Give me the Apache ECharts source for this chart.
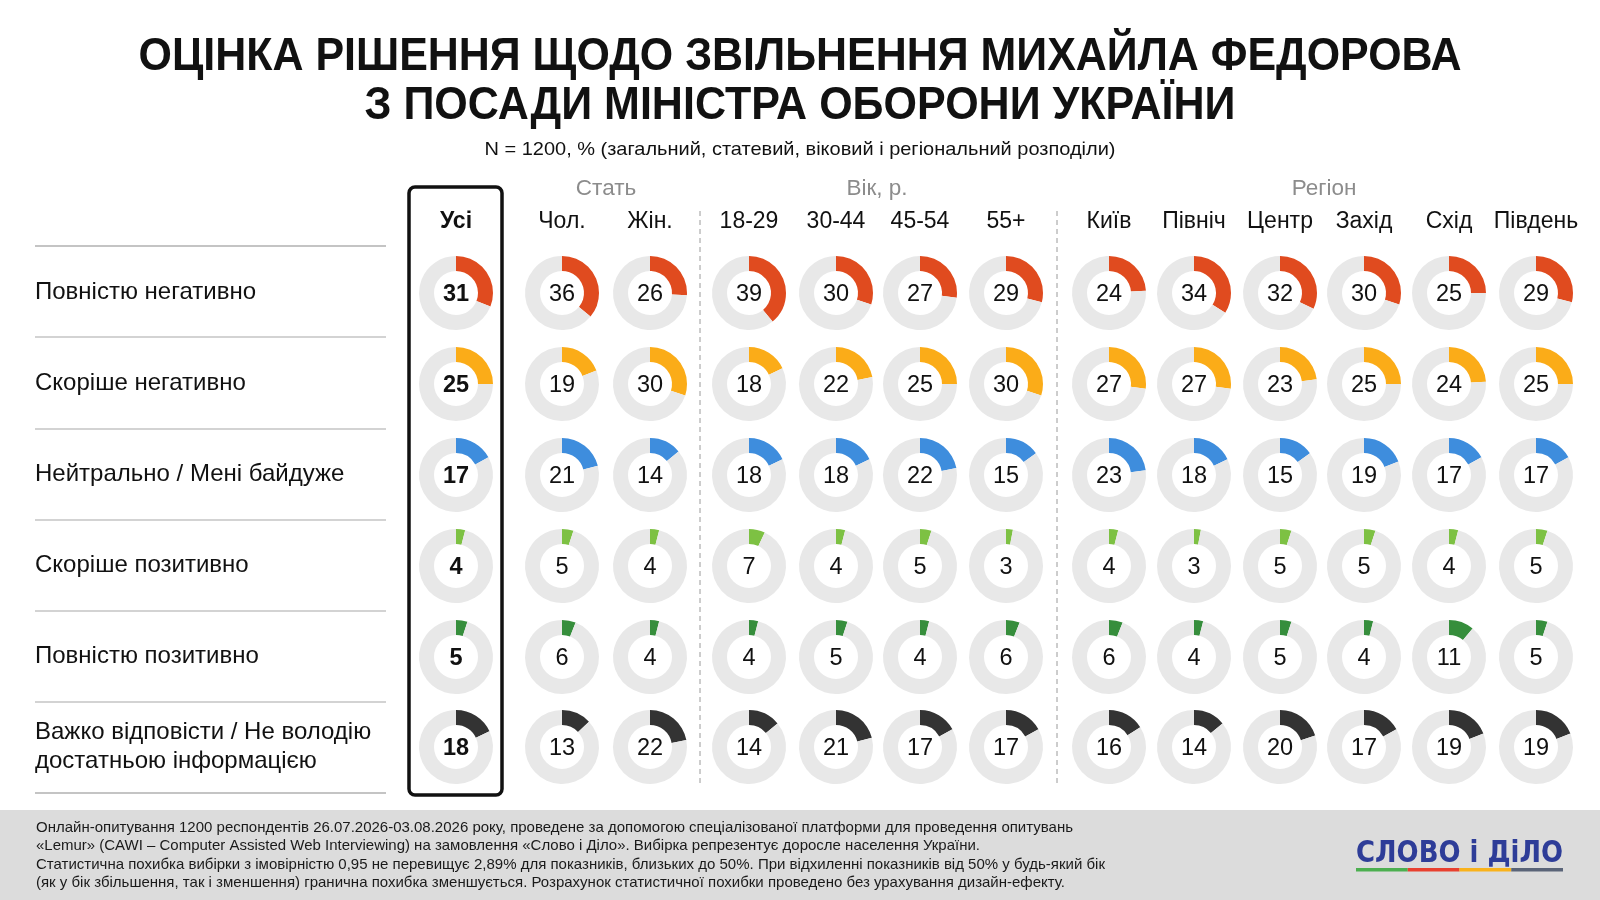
<!DOCTYPE html>
<html>
<head>
<meta charset="utf-8">
<script src="https://cdn.jsdelivr.net/npm/echarts@6/dist/echarts.min.js"></script>
<style>
html,body{margin:0;padding:0;background:#fff;}
#chart{width:1600px;height:900px;}
</style>
</head>
<body>
<div id="chart"></div>
<script>
// ---------- DATA ----------
const columns = ['Усі', 'Чол.', 'Жін.', '18-29', '30-44', '45-54', '55+', 'Київ', 'Північ', 'Центр', 'Захід', 'Схід', 'Південь'];
const groups = ['Стать', 'Вік, р.', 'Регіон'];
const answers = ['Повністю негативно', 'Скоріше негативно', 'Нейтрально / Мені байдуже', 'Скоріше позитивно', 'Повністю позитивно', 'Важко відповісти / Не володію\nдостатньою інформацією'];
const fullyNegative   = [31, 36, 26, 39, 30, 27, 29, 24, 34, 32, 30, 25, 29];
const ratherNegative  = [25, 19, 30, 18, 22, 25, 30, 27, 27, 23, 25, 24, 25];
const neutral         = [17, 21, 14, 18, 18, 22, 15, 23, 18, 15, 19, 17, 17];
const ratherPositive  = [4, 5, 4, 7, 4, 5, 3, 4, 3, 5, 5, 4, 5];
const fullyPositive   = [5, 6, 4, 4, 5, 4, 6, 6, 4, 5, 4, 11, 5];
const hardToSay       = [18, 13, 22, 14, 21, 17, 17, 16, 14, 20, 17, 19, 19];
const rows = [fullyNegative, ratherNegative, neutral, ratherPositive, fullyPositive, hardToSay];

// ---------- STYLE / LAYOUT ----------
const rowColors = ['#E04B1F', '#FBAC18', '#3E8DDD', '#7DC143', '#368E3C', '#333333'];
const trackColor = '#E8E8E8';
const colX = [456, 562, 650, 749, 836, 920, 1006, 1109, 1194, 1280, 1364, 1449, 1536];
const rowY = [293, 384, 475, 566, 657, 747];
const groupX = [606, 877, 1324];
const FONT = '"Liberation Sans", Arial, sans-serif';

const mctx = document.createElement('canvas').getContext('2d');
function fitScale(text, font, w) { mctx.font = font; return w / mctx.measureText(text).width; }

const chart = echarts.init(document.getElementById('chart'), null, {renderer: 'canvas'});

const graphics = [];
function txt(text, x, y, opts) {
  const o = Object.assign({size: 20, weight: 'normal', style: 'normal', color: '#111', align: 'left', width: null, family: FONT}, opts || {});
  const font = o.style + ' ' + o.weight + ' ' + o.size + 'px ' + o.family;
  let scaleX = 1;
  if (o.width) scaleX = fitScale(text, font, o.width);
  graphics.push({
    type: 'text', x: x, y: y, scaleX: scaleX, silent: true, z: 10,
    style: {text: text, x: 0, y: 0, font: font, fill: o.color,
      textAlign: o.align, textVerticalAlign: 'middle', align: o.align, verticalAlign: 'middle',
      lineHeight: o.lineHeight || o.size * 1.2}
  });
}

// Title
txt('ОЦІНКА РІШЕННЯ ЩОДО ЗВІЛЬНЕННЯ МИХАЙЛА ФЕДОРОВА', 800, 57, {size: 46, weight: 'bold', align: 'center', width: 1323});
txt('З ПОСАДИ МІНІСТРА ОБОРОНИ УКРАЇНИ', 800, 106, {size: 46, weight: 'bold', align: 'center', width: 871});
txt('N = 1200, % (загальний, статевий, віковий і регіональний розподіли)', 800, 150, {size: 18.5, align: 'center', width: 631});

// Group headers
groups.forEach((g, i) => txt(g, groupX[i], 189, {size: 22.5, color: '#8C8C8C', align: 'center'}));
// Column headers
columns.forEach((c, i) => txt(c, colX[i], 222, {size: 23, weight: i === 0 ? 'bold' : 'normal', align: 'center'}));

// Row labels
answers.forEach((a, i) => txt(a, 35, rowY[i] - 0.5, {size: 24, lineHeight: 29}));

// Separator lines
const lineYs = [246, 337, 429, 520, 611, 702, 793];
lineYs.forEach((y, i) => graphics.push({
  type: 'line', silent: true,
  shape: {x1: 35, y1: y, x2: 386, y2: y},
  style: {stroke: (i === 0 || i === lineYs.length - 1) ? '#8a8a8a' : '#a8a8a8', lineWidth: 1.2}
}));

// Dashed separators
[700, 1057].forEach(x => graphics.push({
  type: 'line', silent: true,
  shape: {x1: x, y1: 211, x2: x, y2: 784},
  style: {stroke: '#9a9a9a', lineWidth: 1, lineDash: [5, 4]}
}));

// Highlight box
graphics.push({
  type: 'rect', silent: true, z: 5,
  shape: {x: 409, y: 187, width: 93, height: 608, r: 6},
  style: {fill: 'none', stroke: '#111', lineWidth: 3.5}
});

// Footer
graphics.push({type: 'rect', silent: true, z: 1, shape: {x: 0, y: 810, width: 1600, height: 90}, style: {fill: '#DCDCDC'}});
const footer = [
  'Онлайн-опитування 1200 респондентів 26.07.2026-03.08.2026 року, проведене за допомогою спеціалізованої платформи для проведення опитувань',
  '«Lemur» (CAWI – Computer Assisted Web Interviewing) на замовлення «Слово і Діло». Вибірка репрезентує доросле населення України.',
  'Статистична похибка вибірки з імовірністю 0,95 не перевищує 2,89% для показників, близьких до 50%. При відхиленні показників від 50% у будь-який бік',
  '(як у бік збільшення, так і зменшення) гранична похибка зменшується. Розрахунок статистичної похибки проведено без урахування дизайн-ефекту.'
];
const footerW = [1037, 944, 1069, 1029];
footer.forEach((f, i) => txt(f, 36, 828 + i * 18.3, {size: 15, color: '#1a1a1a', width: footerW[i]}));

// Logo
txt('СЛОВО і ДіЛО', 1356, 854, {size: 31, weight: 'bold', color: '#2E3D98', width: 207, family: '"DejaVu Sans", sans-serif'});
const logoBar = ['#4CAF50', '#E8402F', '#F9B21B', '#5A6478'];
logoBar.forEach((c, i) => graphics.push({
  type: 'rect', silent: true, z: 10,
  shape: {x: 1356 + i * 51.75, y: 868, width: 51.75, height: 3.5}, style: {fill: c}
}));

// Donut series
const series = [];
rows.forEach((vals, r) => {
  vals.forEach((v, c) => {
    series.push({
      type: 'pie', silent: true, animation: false,
      center: [colX[c], rowY[r]], radius: [22, 37],
      startAngle: 90, clockwise: true, avoidLabelOverlap: false,
      labelLine: {show: false},
      labelLayout: {dy: 2},
      emphasis: {disabled: true},
      label: {show: false},
      data: [
        {value: v, itemStyle: {color: rowColors[r]},
         label: {show: true, position: 'center', formatter: String(v),
                 fontFamily: FONT, fontSize: 23.5, fontWeight: c === 0 ? 'bold' : 'normal', color: '#111'}},
        {value: 100 - v, itemStyle: {color: trackColor}, label: {show: false}}
      ]
    });
  });
});

chart.setOption({
  backgroundColor: '#ffffff',
  animation: false,
  graphic: {elements: graphics},
  series: series
});
</script>
</body>
</html>
